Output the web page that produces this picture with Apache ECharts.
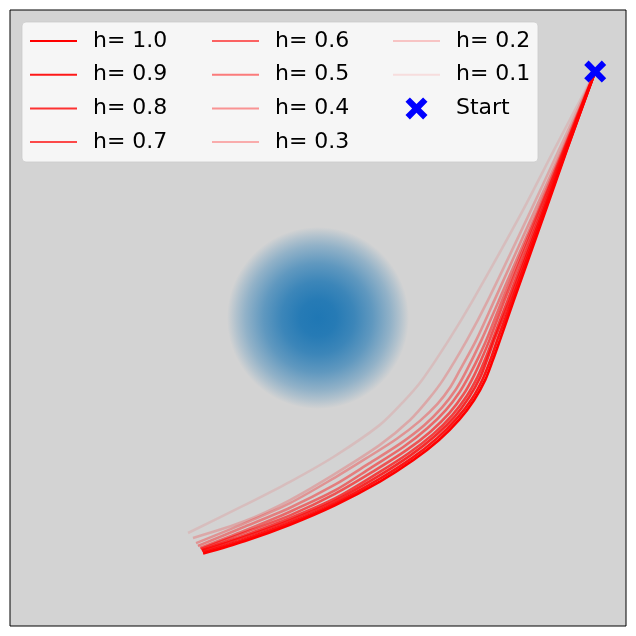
<!DOCTYPE html>
<html>
<head>
<meta charset="utf-8">
<script src="https://cdn.jsdelivr.net/npm/echarts@6/dist/echarts.min.js"></script>
<style>
  html, body { margin: 0; padding: 0; background: #fff; }
  #chart { width: 636px; height: 636px; }
</style>
</head>
<body>
<div id="chart"></div>
<script>
  // step sizes, one trajectory each
  const stepSizes = [1.0, 0.9, 0.8, 0.7, 0.6, 0.5, 0.4, 0.3, 0.2, 0.1]
  const startPoint = [9.0, 8.0]
  const obstacle = [0, 0]

  // trajectories, [x, y]
  const trajH10 = [[9.0, 8.0], [8.08, 5.45], [7.40, 3.51], [6.36, 0.58], [5.91, -0.71], [5.68, -1.36], [5.43, -2.01], [5.07, -2.66], [4.58, -3.31], [3.93, -3.96], [3.10, -4.61], [2.01, -5.31], [0.55, -6.08], [-0.91, -6.71], [-2.37, -7.24], [-3.73, -7.65]]
  const trajH09 = [[9.0, 8.0], [8.07, 5.45], [7.36, 3.51], [6.30, 0.58], [5.83, -0.69], [5.61, -1.33], [5.35, -1.98], [5.00, -2.62], [4.51, -3.26], [3.87, -3.90], [3.05, -4.55], [1.97, -5.24], [0.55, -6.02], [-0.91, -6.65], [-2.37, -7.18], [-3.73, -7.61]]
  const trajH08 = [[9.0, 8.0], [8.05, 5.45], [7.32, 3.51], [6.23, 0.58], [5.74, -0.66], [5.51, -1.30], [5.26, -1.94], [4.91, -2.57], [4.44, -3.20], [3.80, -3.83], [2.99, -4.47], [1.92, -5.16], [0.55, -5.94], [-0.91, -6.57], [-2.37, -7.10], [-3.77, -7.56]]
  const trajH07 = [[9.0, 8.0], [8.02, 5.45], [7.28, 3.51], [6.16, 0.58], [5.67, -0.71], [5.44, -1.31], [5.18, -1.91], [4.83, -2.53], [4.36, -3.15], [3.74, -3.77], [2.93, -4.40], [1.87, -5.08], [0.55, -5.86], [-0.91, -6.50], [-2.37, -7.05], [-3.77, -7.53]]
  const trajH06 = [[9.0, 8.0], [7.99, 5.45], [7.22, 3.51], [6.06, 0.58], [5.57, -0.71], [5.32, -1.31], [5.07, -1.86], [4.73, -2.47], [4.27, -3.08], [3.65, -3.69], [2.86, -4.30], [1.81, -4.97], [0.55, -5.71], [-0.91, -6.41], [-2.37, -6.96], [-3.80, -7.50]]
  const trajH05 = [[9.0, 8.0], [7.98, 5.45], [7.18, 3.51], [5.98, 0.58], [5.47, -0.71], [5.21, -1.28], [4.94, -1.81], [4.60, -2.40], [4.15, -2.99], [3.55, -3.58], [2.77, -4.19], [1.74, -4.85], [0.55, -5.60], [-0.91, -6.29], [-2.37, -6.90], [-3.83, -7.47]]
  const trajH04 = [[9.0, 8.0], [7.95, 5.45], [7.14, 3.51], [5.88, 0.58], [5.31, -0.71], [4.80, -1.75], [4.47, -2.33], [4.03, -2.90], [3.45, -3.48], [2.68, -4.07], [1.66, -4.72], [0.55, -5.41], [-0.91, -6.16], [-2.37, -6.77], [-3.90, -7.40]]
  const trajH03 = [[9.0, 8.0], [7.91, 5.45], [7.05, 3.51], [5.73, 0.58], [5.14, -0.71], [4.62, -1.67], [4.30, -2.24], [3.88, -2.79], [3.31, -3.34], [2.56, -3.92], [1.56, -4.56], [0.55, -5.18], [-0.91, -6.01], [-2.37, -6.66], [-3.96, -7.31]]
  const trajH02 = [[9.0, 8.0], [7.82, 5.45], [6.92, 3.51], [5.52, 0.58], [4.84, -0.71], [4.06, -2.01], [3.57, -2.66], [2.99, -3.31], [2.01, -4.12], [0.55, -5.06], [-0.91, -5.91], [-2.37, -6.59], [-4.06, -7.14]]
  const trajH01 = [[9.0, 8.0], [7.66, 5.45], [6.66, 3.51], [5.03, 0.58], [4.25, -0.71], [3.38, -2.01], [2.76, -2.73], [2.01, -3.47], [0.55, -4.48], [-0.91, -5.32], [-2.37, -6.07], [-4.22, -6.98]]
  const trajectories = [trajH10, trajH09, trajH08, trajH07, trajH06, trajH05, trajH04, trajH03, trajH02, trajH01]

  const names = stepSizes.map(h => 'h= ' + h.toFixed(1))
  const xMark = 'path://M0,2L2,0L5,3L8,0L10,2L7,5L10,8L8,10L5,7L2,10L0,8L3,5Z'

  const chart = echarts.init(document.getElementById('chart'))

  const series = [
    {
      name: 'obstacle',
      type: 'scatter',
      z: 1,
      silent: true,
      symbolSize: 182,
      itemStyle: {
        opacity: 1,
        color: new echarts.graphic.RadialGradient(0.5, 0.5, 0.5, [
          { offset: 0, color: 'rgba(31,119,180,1)' },
          { offset: 0.2, color: 'rgba(31,119,180,0.96)' },
          { offset: 0.4, color: 'rgba(31,119,180,0.84)' },
          { offset: 0.6, color: 'rgba(31,119,180,0.64)' },
          { offset: 0.8, color: 'rgba(31,119,180,0.36)' },
          { offset: 0.9, color: 'rgba(31,119,180,0.19)' },
          { offset: 1, color: 'rgba(31,119,180,0)' }
        ])
      },
      data: [obstacle]
    }
  ]

  trajectories.forEach((pts, i) => {
    series.push({
      name: names[i],
      type: 'line',
      z: 2,
      symbol: 'none',
      smooth: 0.3,
      lineStyle: { color: 'rgba(255,0,0,' + stepSizes[i] + ')', width: 2.6 },
      itemStyle: { color: 'rgba(0,0,0,0)' },
      data: pts
    })
  })

  series.push({
    name: 'Start',
    type: 'scatter',
    z: 3,
    symbol: xMark,
    symbolSize: 22,
    itemStyle: { color: '#0000ff', opacity: 1 },
    data: [startPoint]
  })

  const lineItem = name => ({ name: name, itemStyle: { opacity: 0 } })

  const legendBase = {
    orient: 'vertical',
    top: 30,
    padding: 0,
    itemWidth: 47,
    itemHeight: 22,
    itemGap: 11.7,
    z: 6,
    selectedMode: false,
    textStyle: { fontFamily: 'DejaVu Sans', fontSize: 22, color: '#000', lineHeight: 22, padding: [0, 0, 0, 11] }
  }

  chart.setOption({
    animation: false,
    grid: {
      left: 10, top: 10, width: 616, height: 616,
      show: true,
      backgroundColor: '#d3d3d3',
      borderColor: '#000',
      borderWidth: 1
    },
    xAxis: { type: 'value', min: -10, max: 10, show: false },
    yAxis: { type: 'value', min: -10, max: 10, show: false },
    graphic: [
      {
        type: 'rect',
        z: 5,
        shape: { x: 22, y: 22, width: 516, height: 140, r: 4 },
        style: { fill: 'rgba(255,255,255,0.8)', stroke: 'rgba(204,204,204,0.8)', lineWidth: 1 }
      }
    ],
    legend: [
      Object.assign({}, legendBase, { left: 29, data: names.slice(0, 4).map(lineItem) }),
      Object.assign({}, legendBase, { left: 211, data: names.slice(4, 8).map(lineItem) }),
      Object.assign({}, legendBase, { left: 392, data: names.slice(8, 10).map(lineItem).concat([{ name: 'Start' }]) })
    ],
    series: series
  })
</script>
</body>
</html>
